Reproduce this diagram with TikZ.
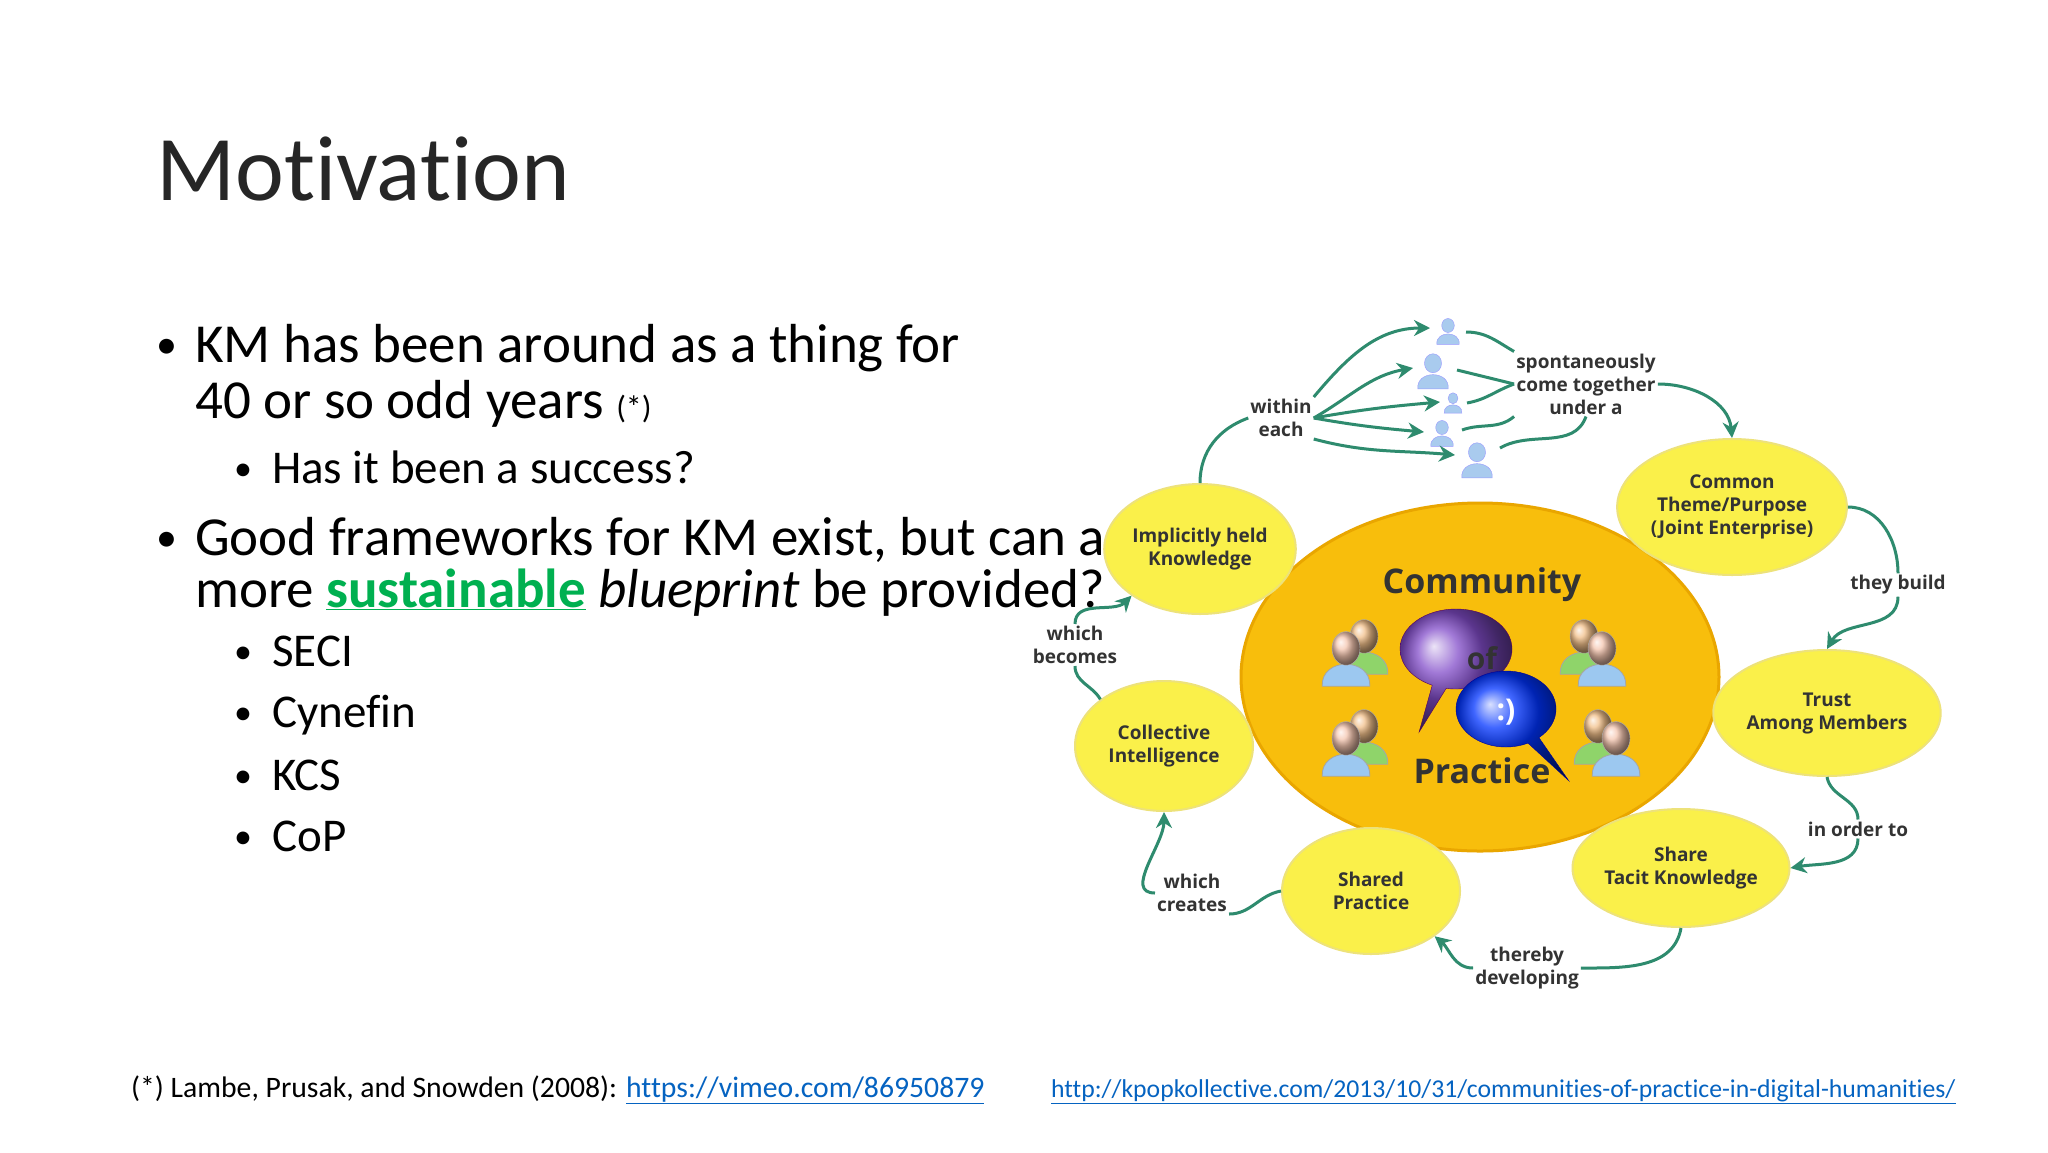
\documentclass[tikz,border=0pt]{standalone}
\usepackage{fontspec}
\setmainfont{Carlito}[Ligatures=NoCommon]
\newfontfamily\titlefont{Carlito}[Ligatures=NoCommon]
\newfontfamily\dfont{Open Sans}
\usetikzlibrary{arrows.meta,shapes.geometric,shapes.callouts}
\definecolor{cgreen}{HTML}{2E8B6E}
\definecolor{linkblue}{HTML}{0563C1}
\definecolor{susgreen}{HTML}{00B050}
\definecolor{bigfill}{HTML}{F8BE0C}
\definecolor{bigdraw}{HTML}{E9A600}
\definecolor{smallfill}{HTML}{FAF04A}
\definecolor{smalldraw}{HTML}{EDE27A}
\definecolor{dtext}{HTML}{333333}
\definecolor{headA}{HTML}{F2C08A}
\definecolor{headB}{HTML}{F5C6B0}
\definecolor{bodyA}{HTML}{8FD46A}
\definecolor{bodyB}{HTML}{9CC8F0}
\definecolor{miniC}{HTML}{A9CBEE}
\tikzset{
  body/.style={font=\fontsize{55}{66}\selectfont, anchor=base west, inner sep=0},
  subb/.style={font=\fontsize{47}{56}\selectfont, anchor=base west, inner sep=0},
  bul/.style={font=\fontsize{42}{50}\selectfont, anchor=base west, inner sep=0},
  sbul/.style={font=\fontsize{36}{42}\selectfont, anchor=base west, inner sep=0},
  sel/.style={ellipse, fill=smallfill, draw=smalldraw, line width=2pt, inner sep=0, align=center, text=dtext, font=\dfont\bfseries\fontsize{19}{23}\selectfont},
  lbl/.style={align=center, text=dtext, inner sep=2pt, font=\dfont\bfseries\fontsize{19}{23}\selectfont},
  conn/.style={draw=cgreen, line width=3pt, -{Stealth[length=16pt,width=16pt]}},
  plain/.style={draw=cgreen, line width=3pt},
  pics/person/.style args={#1/#2/#3}{code={
    \fill[#2, draw=black!35, line width=0.8pt] (-#3*0.85,#3*1.15) .. controls (-#3*0.9,#3*0.1) and (#3*0.9,#3*0.1) .. (#3*0.85,#3*1.15) -- cycle;
    \shade[ball color=#1, draw=black!30] (0,-#3*0.2) ellipse ({#3*0.5} and {#3*0.6});
  }},
  pics/duo/.style={code={
    \pic at (12,-8) {person={headA}/{bodyA}/28};
    \pic at (-6,4) {person={headB}/{bodyB}/28};
  }},
  pics/duoR/.style={code={
    \pic at (-10,-8) {person={headA}/{bodyA}/28};
    \pic at (8,4) {person={headB}/{bodyB}/28};
  }},
  pics/mini/.style={code={
    \fill[miniC, draw=blue!40] (-#1*0.8,#1*1.1) .. controls (-#1*0.9,#1*0.1) and (#1*0.9,#1*0.1) .. (#1*0.8,#1*1.1) -- cycle;
    \fill[miniC, draw=blue!40] (0,-#1*0.25) ellipse ({#1*0.45} and {#1*0.5});
  }}
}
\begin{document}
\begin{tikzpicture}[x=1pt,y=-1pt]
\useasboundingbox[fill=white] (0,0) rectangle (2048,1152);
% title
\node[anchor=base west, inner sep=0, font=\titlefont\fontsize{92.5}{100}\selectfont, text=black!85] (title) at (156,200) {Motivation};
% bullets
\node[bul] (d1) at (156,358) {•};
\node[body] (b1a) at (195,362) {KM has been around as a thing for};
\node[body] (b1b) at (195,418) {40 or so odd years \fontsize{32}{40}\selectfont(*)};
\node[sbul] (d2) at (234,480) {•};
\node[subb] (s1) at (272,483) {Has it been a success?};
\node[bul] (d3) at (156,551) {•};
\node[body] (b2a) at (195,555) {Good frameworks for KM exist, but can a};
\node[body] (b2b) at (195,607) {more \textcolor{susgreen}{\bfseries\underline{sustainable}} \textit{blueprint} be provided?};
\node[sbul] (d4) at (234,663) {•}; \node[subb] (s2) at (272,666) {SECI};
\node[sbul] (d5) at (234,724) {•}; \node[subb] (s3) at (272,727) {Cynefin};
\node[sbul] (d6) at (234,787) {•}; \node[subb] (s4) at (272,790) {KCS};
\node[sbul] (d7) at (234,848) {•}; \node[subb] (s5) at (272,851) {CoP};
% footers
\node[anchor=base west, inner sep=0, font=\fontsize{29.7}{34}\selectfont] (fn) at (131,1097) {(*) Lambe, Prusak, and Snowden (2008): \textcolor{linkblue}{\underline{https://vimeo.com/86950879}}};
\node[anchor=base west, inner sep=0, font=\fontsize{25.7}{28}\selectfont, text=linkblue] (url) at (1051,1097) {\underline{http://kpopkollective.com/2013/10/31/communities-of-practice-in-digital-humanities/}};
% diagram: big ellipse
\node[ellipse, minimum width=478pt, minimum height=348pt, fill=bigfill, draw=bigdraw, line width=3pt] (big) at (1480,677) {};
\node[font=\dfont\bfseries\fontsize{34}{40}\selectfont, text=black!80] (comm) at (1482,585) {Community};
\node[font=\dfont\bfseries\fontsize{34}{40}\selectfont, text=black!80] (prac) at (1482,771) {Practice};
% bubbles
\node[ellipse callout, minimum width=112pt, minimum height=80pt, callout relative pointer={(-20pt,-45pt)}, shading=ball, ball color=violet!60!blue!70, draw=violet!70!black] (pb) at (1456,649) {};
\node[ellipse callout, minimum width=100pt, minimum height=76pt, callout relative pointer={(35pt,-40pt)}, shading=ball, ball color=blue!80!cyan, draw=blue!60!black] (bb) at (1506,709) {};
\node[font=\dfont\bfseries\fontsize{30}{34}\selectfont, text=white] (smile) at (1506,712) {:)};
\node[font=\dfont\bfseries\fontsize{30}{34}\selectfont, text=black!80] (of) at (1482,658) {of};
% people groups
\pic at (1352,650) {duo};
\pic at (1352,740) {duo};
\pic at (1594,650) {duoR};
\pic at (1608,740) {duoR};
% small people at top
\pic at (1448,329) {mini=14};
\pic at (1433,368) {mini=19};
\pic at (1453,401) {mini=11};
\pic at (1442,431) {mini=14};
\pic at (1477,457) {mini=19};
\coordinate (p1) at (1430,328); \coordinate (p2) at (1413,368); \coordinate (p3) at (1440,402);
\coordinate (p4) at (1424,432); \coordinate (p5) at (1455,455);
\coordinate (q1) at (1466,332); \coordinate (q2) at (1457,370); \coordinate (q3) at (1467,403);
\coordinate (q4) at (1462,430); \coordinate (q5) at (1500,448);
% small ellipses
\node[sel, minimum width=182pt, minimum height=130pt] (ihk) at (1200,549) {Implicitly held\\Knowledge};
\node[sel, minimum width=216pt, minimum height=136pt] (ctp) at (1732,507) {Common\\Theme/Purpose\\(Joint Enterprise)};
\node[sel, minimum width=208pt, minimum height=126pt] (tam) at (1827,713) {Trust\\Among Members};
\node[sel, minimum width=204pt, minimum height=118pt] (stk) at (1681,868) {Share\\Tacit Knowledge};
\node[sel, minimum width=178pt, minimum height=126pt] (shp) at (1371,891) {Shared\\Practice};
\node[sel, minimum width=178pt, minimum height=130pt] (coi) at (1164,746) {Collective\\Intelligence};
% labels
\node[lbl] (we) at (1281,418) {within\\each};
\node[lbl] (spt) at (1586,384) {spontaneously\\come together\\under a};
\node[lbl] (tb) at (1898,585) {they build};
\node[lbl] (iot) at (1858,829) {in order to};
\node[lbl] (td) at (1527,968) {thereby\\developing};
\node[lbl] (wc) at (1192,893) {which\\creates};
\node[lbl] (wb) at (1075,645) {which\\becomes};
% connectors
\draw[plain] (ihk.north) to[out=90,in=200] (we.west);
\draw[conn] (we.north east) to[out=50,in=180] (p1);
\draw[conn] (we.east) to[out=30,in=190] (p2);
\draw[conn] (we.east) to[out=10,in=185] (p3);
\draw[conn] (we.east) to[out=-10,in=175] (p4);
\draw[conn] (we.south east) to[out=-15,in=175] (p5);
\draw[plain] (q1) to[out=0,in=150] (spt.north west);
\draw[plain] (q2) -- (spt.west);
\draw[plain] (q3) to[out=10,in=200] (spt.west);
\draw[plain] (q4) to[out=20,in=220] (spt.south west);
\draw[plain] (q5) to[out=30,in=250] (spt.south);
\draw[conn] (spt.east) to[out=0,in=95] (ctp.north);
\draw[plain] (ctp.east) to[out=0,in=90] (tb.north);
\draw[conn] (tb.south) to[out=-90,in=60] (tam.north);
\draw[plain] (tam.south) to[out=-80,in=90] (iot.north);
\draw[conn] (iot.south) to[out=-90,in=10] (stk.east);
\draw[plain] (stk.south) to[out=-100,in=0] (td.east);
\draw[conn] (td.west) to[out=180,in=-40] (shp.south east);
\draw[plain] (shp.west) to[out=190,in=0] (wc.south east);
\draw[conn] (wc.west) to[out=180,in=-90] (coi.south);
\draw[plain] (coi.north west) to[out=120,in=-90] (wb.south);
\draw[conn] (wb.north) to[out=90,in=225] (ihk.south west);
\end{tikzpicture}
\end{document}
